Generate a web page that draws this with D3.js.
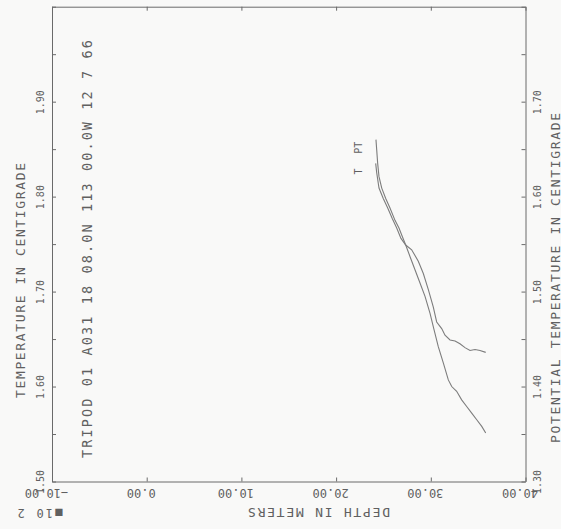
<!DOCTYPE html>
<html>
<head>
<meta charset="utf-8">
<script src="https://cdn.jsdelivr.net/npm/d3@7"></script>
<style>
  html, body { margin: 0; padding: 0; background: #f9f9f8; }
  svg { display: block; }
  text { font-family: "DejaVu Sans Mono", "Liberation Mono", monospace; fill: #606060; }
</style>
</head>
<body>
<svg id="chart" width="561" height="529"></svg>
<script>
// ---- data ----
const titleText = "TRIPOD 01 A031 18 08.0N 113 00.0W 12 7 66";
const leftTitle = "TEMPERATURE IN CENTIGRADE";
const rightTitle = "POTENTIAL TEMPERATURE IN CENTIGRADE";
const bottomTitle = "DEPTH IN METERS";
const depthMultiplier = "\u25A010 2";

const depthTicks = [-10, 0, 10, 20, 30, 40];
const tempTicks = [1.50, 1.55, 1.60, 1.65, 1.70, 1.75, 1.80, 1.85, 1.90, 1.95, 2.00];
const tempLabels = [1.50, 1.60, 1.70, 1.80, 1.90];
const ptTicks = [1.30, 1.35, 1.40, 1.45, 1.50, 1.55, 1.60, 1.65, 1.70, 1.75, 1.80];
const ptLabels = [1.30, 1.40, 1.50, 1.60, 1.70];

// in-situ temperature (T), depth in 10^2 m
const tDepth = [24.18, 24.29, 24.53, 24.98, 25.45, 25.93, 26.40, 26.85, 27.35, 27.98, 28.68, 29.21, 29.74, 30.26, 30.62, 31.15, 31.50, 32.03, 32.56, 33.08, 33.61, 34.14, 34.67, 35.20, 35.80];
const tValues = [1.835, 1.825, 1.809, 1.798, 1.788, 1.777, 1.767, 1.756, 1.749, 1.744, 1.732, 1.719, 1.702, 1.684, 1.668, 1.661, 1.654, 1.649, 1.648, 1.645, 1.641, 1.638, 1.639, 1.638, 1.636];

// potential temperature (PT)
const ptDepth = [24.21, 24.29, 24.39, 24.53, 24.82, 25.24, 25.69, 26.22, 26.64, 26.99, 27.35, 27.80, 28.33, 28.86, 29.39, 29.92, 30.34, 30.79, 31.32, 31.85, 32.21, 32.73, 33.26, 33.79, 34.32, 34.85, 35.38, 35.80];
const ptValues = [1.660, 1.649, 1.635, 1.621, 1.609, 1.598, 1.588, 1.575, 1.567, 1.558, 1.549, 1.537, 1.523, 1.509, 1.495, 1.477, 1.460, 1.442, 1.425, 1.407, 1.400, 1.395, 1.386, 1.379, 1.372, 1.365, 1.358, 1.351];

const seriesNames = ["T", "PT"];

// ---- drawing ----
const svg = d3.select("#chart");
const frame = { left: 52, right: 525.5, top: 6.7, bottom: 481.5 };

const x = d3.scaleLinear().domain([-10, 40]).range([frame.left, frame.right]);
const yT = d3.scaleLinear().domain([1.5, 2.0]).range([frame.bottom, frame.top]);
const yPT = d3.scaleLinear().domain([1.3, 1.8]).range([frame.bottom, frame.top]);

const axisColor = "#6a6a6a";
const fmt2 = d3.format(".2f");
const isLabel = (arr) => (d) => arr.some(v => Math.abs(v - d) < 1e-6) ? fmt2(d) : "";

function styleAxis(g) {
  g.selectAll("path.domain").attr("stroke", axisColor).attr("stroke-width", 1);
  g.selectAll(".tick line").attr("stroke", axisColor).attr("stroke-width", 1);
  g.selectAll("text").attr("fill", "#606060");
}

// bottom axis (depth), labels upside-down
const gB = svg.append("g").attr("transform", `translate(0,${frame.bottom})`)
  .call(d3.axisBottom(x).tickValues(depthTicks).tickSizeInner(-4).tickSizeOuter(0).tickFormat(fmt2));
styleAxis(gB);
gB.selectAll(".tick text")
  .attr("font-size", 12).attr("font-family", "DejaVu Sans Mono")
  .attr("x", -6).attr("y", 11.5).attr("dy", null)
  .attr("dominant-baseline", "central").attr("text-anchor", "middle")
  .attr("transform", "rotate(180,-6,11.5)");

// top axis (ticks only)
const gTop = svg.append("g").attr("transform", `translate(0,${frame.top})`)
  .call(d3.axisTop(x).tickValues(depthTicks).tickSizeInner(-4).tickSizeOuter(0).tickFormat(""));
styleAxis(gTop);

// left axis (temperature)
const gL = svg.append("g").attr("transform", `translate(${frame.left},0)`)
  .call(d3.axisLeft(yT).tickValues(tempTicks).tickSizeInner(-4).tickSizeOuter(0).tickFormat(isLabel(tempLabels)));
styleAxis(gL);
gL.selectAll(".tick text")
  .attr("font-size", 10).attr("font-family", "DejaVu Sans Mono")
  .attr("x", -12).attr("dy", null)
  .attr("dominant-baseline", "central").attr("text-anchor", "middle")
  .attr("transform", "rotate(-90,-12,0)");

// right axis (potential temperature)
const gR = svg.append("g").attr("transform", `translate(${frame.right},0)`)
  .call(d3.axisRight(yPT).tickValues(ptTicks).tickSizeInner(-4).tickSizeOuter(0).tickFormat(isLabel(ptLabels)));
styleAxis(gR);
gR.selectAll(".tick text")
  .attr("font-size", 10).attr("font-family", "DejaVu Sans Mono")
  .attr("x", 12).attr("dy", null)
  .attr("dominant-baseline", "central").attr("text-anchor", "middle")
  .attr("transform", "rotate(-90,12,0)");

// curves
const tData = tDepth.map((d, i) => ({ d, v: tValues[i] }));
const ptData = ptDepth.map((d, i) => ({ d, v: ptValues[i] }));

const lineT = d3.line().x(p => x(p.d)).y(p => yT(p.v));
const linePT = d3.line().x(p => x(p.d)).y(p => yPT(p.v));

svg.append("path").datum(tData).attr("d", lineT)
  .attr("fill", "none").attr("stroke", "#7d7d7d").attr("stroke-width", 1.1);
svg.append("path").datum(ptData).attr("d", linePT)
  .attr("fill", "none").attr("stroke", "#7d7d7d").attr("stroke-width", 1.1);

// series labels at curve starts
const starts = [
  { name: seriesNames[0], px: x(tData[0].d), py: yT(tData[0].v) },
  { name: seriesNames[1], px: x(ptData[0].d), py: yPT(ptData[0].v) }
];
starts.forEach(s => {
  const cx = s.px - 17, cy = s.py + 8;
  svg.append("text").text(s.name)
    .attr("x", cx).attr("y", cy)
    .attr("font-size", 10)
    .attr("text-anchor", "middle").attr("dominant-baseline", "central")
    .attr("transform", `rotate(-90,${cx},${cy})`);
});

// titles
function rotText(str, cx, cy, angle, size, len) {
  svg.append("text").text(str)
    .attr("x", cx).attr("y", cy)
    .attr("font-size", size)
    .attr("text-anchor", "middle").attr("dominant-baseline", "central")
    .attr("textLength", len).attr("lengthAdjust", "spacing")
    .attr("transform", `rotate(${angle},${cx},${cy})`);
}
rotText(titleText, 87, 249, -90, 13.5, 418);
rotText(leftTitle, 20, 280.5, -90, 13, 235);
rotText(rightTitle, 555, 278, -90, 13, 330);
rotText(bottomTitle, 319, 512.5, 180, 13, 142);
rotText(depthMultiplier, 40, 513, 180, 12, 45);
</script>
</body>
</html>
